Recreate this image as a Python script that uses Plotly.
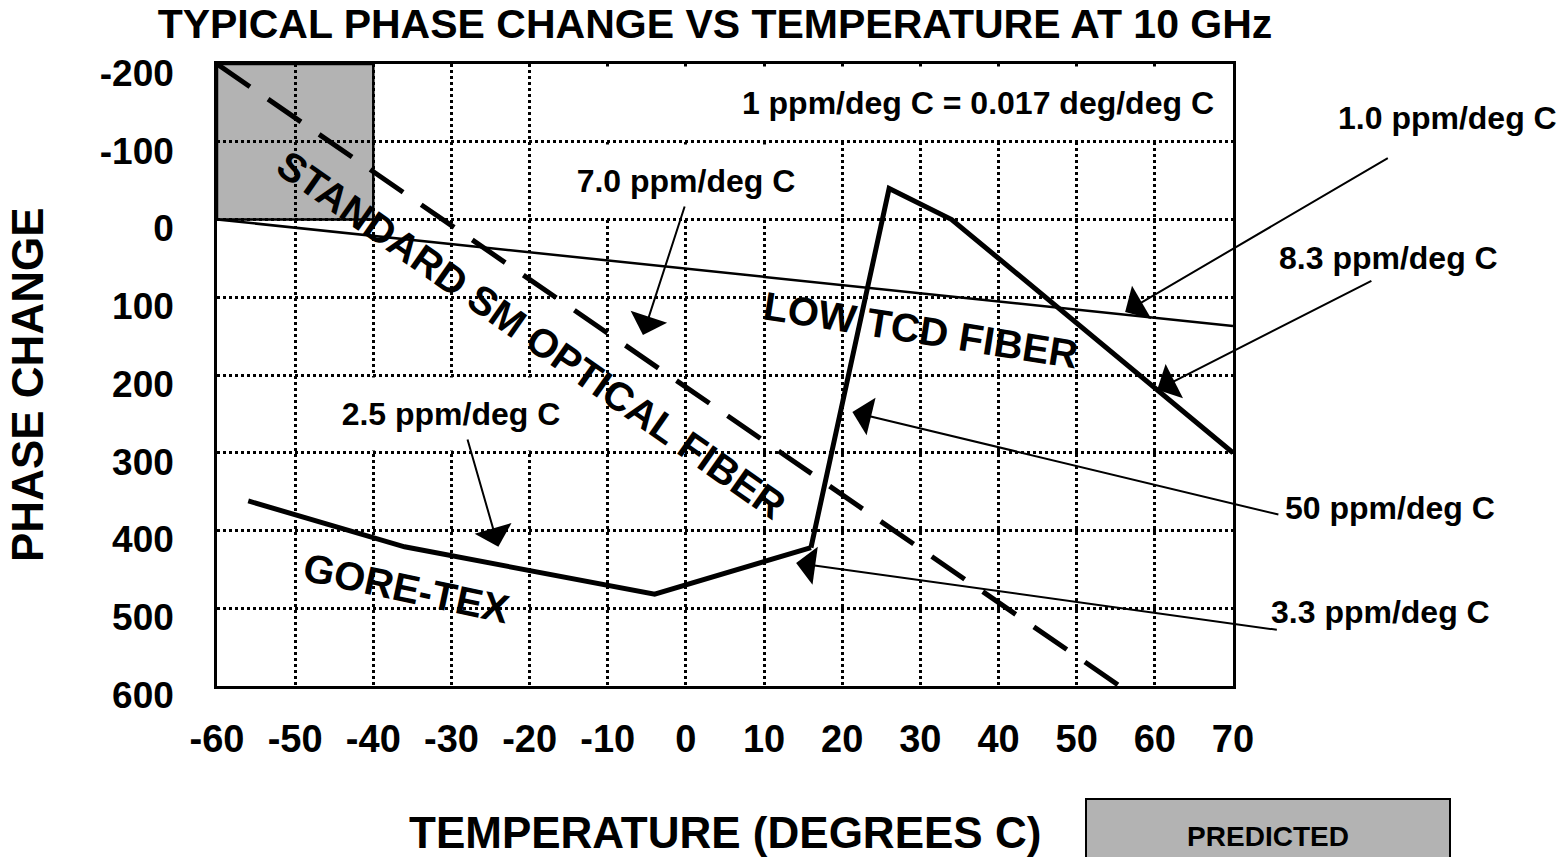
import plotly.graph_objects as go

# ---------------- data ----------------
x_ticks = [-60, -50, -40, -30, -20, -10, 0, 10, 20, 30, 40, 50, 60, 70]
y_ticks = [-200, -100, 0, 100, 200, 300, 400, 500, 600]

gore_x = [-56, -36, -4, 16]
gore_y = [362, 421, 482, 422]

lowtcd_x = [16, 26, 34, 70]
lowtcd_y = [422, -40, 0, 300]

smf_x = [-60, 55.5]
smf_y = [-200, 600]

ref_x = [-60, 70]
ref_y = [0, 137]

pred_x = [-60, -40]
pred_y = [-200, 0]

FONT = "Liberation Sans, Arial, sans-serif"

fig = go.Figure()

fig.add_trace(go.Scatter(x=ref_x, y=ref_y, mode="lines",
                         line=dict(color="black", width=2.5), showlegend=False))
fig.add_trace(go.Scatter(x=smf_x, y=smf_y, mode="lines",
                         line=dict(color="black", width=5, dash="40px,22px"), showlegend=False))
fig.add_trace(go.Scatter(x=gore_x, y=gore_y, mode="lines",
                         line=dict(color="black", width=5), showlegend=False))
fig.add_trace(go.Scatter(x=lowtcd_x, y=lowtcd_y, mode="lines",
                         line=dict(color="black", width=5), showlegend=False))

# predicted (shaded) region
fig.add_shape(type="rect", xref="x", yref="y",
              x0=pred_x[0], x1=pred_x[1], y0=pred_y[0], y1=pred_y[1],
              fillcolor="#b3b3b3", line=dict(color="black", width=2.5), layer="below")


def bold(size):
    return dict(family=FONT, size=size, color="black", weight="bold")


def label(text, x, y, size=32, **kw):
    fig.add_annotation(x=x, y=y, xref="x", yref="y", text=text, showarrow=False,
                       xanchor="center", yanchor="middle", font=bold(size), **kw)


def plabel(text, x, y, size=32, **kw):
    fig.add_annotation(x=x, y=y, xref="paper", yref="paper", text=text, showarrow=False,
                       xanchor="center", yanchor="middle", font=bold(size), **kw)


def arrow(x, y, ax, ay):
    fig.add_annotation(x=x, y=y, ax=ax, ay=ay, xref="x", yref="y", axref="x", ayref="y",
                       text="", showarrow=True, arrowhead=1, arrowsize=3.2,
                       arrowwidth=2, arrowcolor="black", standoff=0)


# boxed labels inside the plot
label("1 ppm/deg C = 0.017 deg/deg C", 25.7, -150, bgcolor="white", width=655, height=72,
      align="right", borderpad=0)
label("7.0 ppm/deg C", 0, -50, bgcolor="white", width=280, height=72, borderpad=0)
label("2.5 ppm/deg C", -30, 250, bgcolor="white", width=250, height=72, borderpad=0)

# rotated curve names
label("STANDARD SM OPTICAL FIBER", -19.7, 148, size=40, textangle=35)
label("LOW TCD FIBER", 30.1, 142, size=40, textangle=9)
label("GORE-TEX", -35.8, 474, size=40, textangle=12)

# labels outside the plot on the right
plabel("1.0 ppm/deg C", 1.2116, 0.9132)
plabel("8.3 ppm/deg C", 1.1535, 0.6881)
plabel("50 ppm/deg C", 1.1545, 0.2862)
plabel("3.3 ppm/deg C", 1.1447, 0.1190)

# arrows
arrow(-5.5, 148.6, -0.1, -18.6)      # 7.0
arrow(-24.0, 421, -28.0, 281)        # 2.5
arrow(56.2, 119, 90.0, -80)          # 1.0
arrow(60.3, 219, 87.9, 78)           # 8.3
arrow(21.3, 247.6, 76.0, 380)        # 50
arrow(14.1, 441.8, 75.8, 528)        # 3.3

# axis titles and legend box
plabel("PHASE CHANGE", -0.186, 0.484, size=44, textangle=-90)
plabel("TEMPERATURE (DEGREES C)", 0.5, -0.2363, size=44)
plabel("PREDICTED", 1.0344, -0.2412, size=28, bgcolor="#b3b3b3", bordercolor="black",
       borderwidth=2, width=362, height=72, borderpad=0)

fig.update_layout(
    width=1564, height=857,
    margin=dict(l=217, r=331, t=64, b=171),
    paper_bgcolor="white", plot_bgcolor="white",
    title=dict(text="TYPICAL PHASE CHANGE VS TEMPERATURE AT 10 GHz",
               x=715 / 1564, xref="container", xanchor="center",
               y=1 - 24 / 857, yref="container", yanchor="middle",
               font=bold(41)),
    showlegend=False,
)

fig.update_xaxes(range=[-60, 70], tickvals=x_ticks, ticktext=[str(v) for v in x_ticks],
                 showgrid=True, gridcolor="black", gridwidth=2.5, griddash="3px,3px",
                 showline=True, linecolor="black", linewidth=2.5, mirror=True,
                 zeroline=False, ticks="", ticklabelstandoff=18,
                 tickfont=bold(38))
fig.update_yaxes(range=[600, -200], tickvals=y_ticks, ticktext=[str(v) for v in y_ticks],
                 showgrid=True, gridcolor="black", gridwidth=2.5, griddash="3px,3px",
                 showline=True, linecolor="black", linewidth=2.5, mirror=True,
                 zeroline=False, ticks="", ticklabelstandoff=33, ticklabelshift=-9,
                 tickfont=bold(37))

fig.write_html("out.html")
